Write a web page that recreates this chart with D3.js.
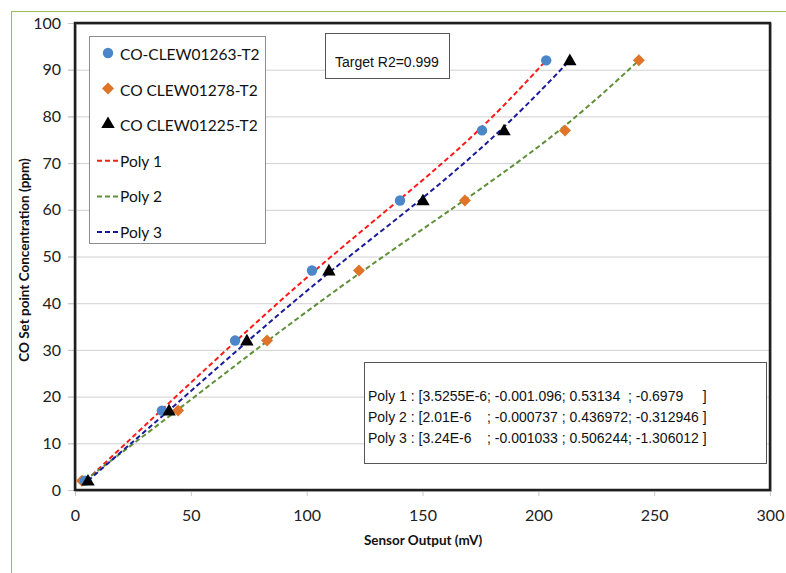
<!DOCTYPE html>
<html>
<head>
<meta charset="utf-8">
<script src="https://cdn.jsdelivr.net/npm/d3@7"></script>
<style>
  html, body { margin: 0; padding: 0; background: #fff; }
  svg { display: block; }
</style>
</head>
<body>
<svg id="chart" width="786" height="573"></svg>
<script>
// ---- Data ----
const setPoints = [2, 17, 32, 47, 62, 77, 92];
const seriesNames = ["CO-CLEW01263-T2", "CO CLEW01278-T2", "CO CLEW01225-T2"];
const s1263 = [4.3, 37.5, 69.1, 102.3, 140.3, 175.7, 203.4];
const s1278 = [3.0, 44.5, 82.9, 122.6, 168.3, 211.5, 243.4];
const s1225 = [5.6, 40.6, 74.2, 109.6, 150.2, 185.2, 213.6];
// trend lines: x positions at each set-point level
const polyNames = ["Poly 1", "Poly 2", "Poly 3"];
const poly1X = [4.8, 37.0, 69.6, 103.0, 139.8, 175.4, 203.4];
const poly2X = [4.2, 44.0, 83.0, 124.0, 168.2, 210.6, 243.4];
const poly3X = [5.6, 40.6, 74.6, 110.2, 149.4, 184.6, 213.6];
const xTicks = [0, 50, 100, 150, 200, 250, 300];
const yTicks = [0, 10, 20, 30, 40, 50, 60, 70, 80, 90, 100];
const targetText = "Target R2=0.999";
const polyTexts = [
  "Poly 1 : [3.5255E-6; -0.001.096; 0.53134  ; -0.6979     ]",
  "Poly 2 : [2.01E-6    ; -0.000737 ; 0.436972; -0.312946 ]",
  "Poly 3 : [3.24E-6    ; -0.001033 ; 0.506244; -1.306012 ]"
];
const xTitle = "Sensor Output (mV)";
const yTitle = "CO Set point Concentration (ppm)";

// ---- Layout ----
const svg = d3.select("#chart");
const L = 75, R = 770, T = 23, B = 490;
const x = d3.scaleLinear().domain([0, 300]).range([L, R]);
const y = d3.scaleLinear().domain([0, 100]).range([B, T]);
const tickFont = "Lato, 'Open Sans', sans-serif";

// outer frame (light green)
svg.append("rect").attr("x", 11.5).attr("y", 11.5).attr("width", 800).attr("height", 600)
  .attr("fill", "#fff").attr("stroke", "#9bbb59").attr("stroke-width", 1);

// gridlines
svg.append("g").selectAll("line").data(yTicks.filter(d => d > 0 && d < 100)).join("line")
  .attr("x1", L - 7).attr("x2", R).attr("y1", d => y(d) + 0.5).attr("y2", d => y(d) + 0.5)
  .attr("stroke", "#d0d0d0").attr("stroke-width", 1);

// axes
const yAxis = d3.axisLeft(y).tickValues(yTicks).tickSize(7).tickPadding(7);
const gy = svg.append("g").attr("transform", `translate(${L},0)`).call(yAxis);
gy.select(".domain").remove();
gy.selectAll(".tick line").attr("stroke", "#c8c8c8");
gy.selectAll("text").attr("font-family", tickFont).attr("font-size", 16).attr("fill", "#222");

const xAxis = d3.axisBottom(x).tickValues(xTicks).tickSize(6).tickPadding(14);
const gx = svg.append("g").attr("transform", `translate(0,${B})`).call(xAxis);
gx.select(".domain").remove();
gx.selectAll(".tick line").attr("stroke", "#c8c8c8");
gx.selectAll("text").attr("font-family", tickFont).attr("font-size", 16).attr("fill", "#222");

// plot border
svg.append("rect").attr("x", L + 1).attr("y", T + 1).attr("width", R - L).attr("height", B - T)
  .attr("fill", "none").attr("stroke", "#c8c8c8").attr("stroke-width", 2);
svg.append("rect").attr("x", L).attr("y", T).attr("width", R - L).attr("height", B - T)
  .attr("fill", "none").attr("stroke", "#1e1e1e").attr("stroke-width", 2.5);

// axis titles
svg.append("text").attr("x", 423).attr("y", 545).attr("text-anchor", "middle")
  .attr("font-family", tickFont).attr("font-weight", "bold").attr("font-size", 13.5).attr("fill", "#111")
  .text(xTitle);
svg.append("text").attr("transform", "translate(29,260) rotate(-90)").attr("text-anchor", "middle")
  .attr("font-family", tickFont).attr("font-weight", "bold").attr("font-size", 13.5).attr("fill", "#111")
  .text(yTitle);

// trend lines
const polyColors = ["#ff1a1a", "#5f8f38", "#1a1a9c"];
const polyXs = [poly1X, poly2X, poly3X];
const lineGen = d3.line().x(d => x(d[0])).y(d => y(d[1])).curve(d3.curveBasis);
polyXs.forEach((xs, i) => {
  svg.append("path").datum(xs.map((v, k) => [v, setPoints[k]]))
    .attr("d", lineGen).attr("fill", "none").attr("stroke", polyColors[i])
    .attr("stroke-width", 2).attr("stroke-dasharray", "5,3");
});

// markers
const blue = "#4a86c8", orange = "#e07428";
const sym = {
  circle: d3.symbol().type(d3.symbolCircle).size(85),
  diamond: d3.symbol().type(d3.symbolSquare).size(72),
  triangle: d3.symbol().type(d3.symbolTriangle).size(78)
};
function drawMarkers(xs, kind, color) {
  svg.append("g").selectAll("path").data(xs.map((v, k) => [v, setPoints[k]])).join("path")
    .attr("d", sym[kind])
    .attr("transform", d => `translate(${x(d[0])},${y(d[1])})` + (kind === "diamond" ? " rotate(45)" : kind === "triangle" ? " translate(0,1)" : ""))
    .attr("fill", color);
}
drawMarkers(s1278, "diamond", orange);
drawMarkers(s1263, "circle", blue);
drawMarkers(s1225, "triangle", "#000");

// legend
const lg = svg.append("g");
lg.append("rect").attr("x", 89.5).attr("y", 36.5).attr("width", 176).attr("height", 207)
  .attr("fill", "#fff").attr("stroke", "#8c8c8c").attr("stroke-width", 1);
const legendItems = [
  { name: seriesNames[0], kind: "circle", color: blue },
  { name: seriesNames[1], kind: "diamond", color: orange },
  { name: seriesNames[2], kind: "triangle", color: "#000" },
  { name: polyNames[0], kind: "line", color: polyColors[0] },
  { name: polyNames[1], kind: "line", color: polyColors[1] },
  { name: polyNames[2], kind: "line", color: polyColors[2] }
];
legendItems.forEach((it, i) => {
  const cy = 54 + i * 35.6;
  if (it.kind === "line") {
    lg.append("line").attr("x1", 97).attr("x2", 119).attr("y1", cy).attr("y2", cy)
      .attr("stroke", it.color).attr("stroke-width", 2).attr("stroke-dasharray", "5,3");
  } else {
    lg.append("path").attr("d", sym[it.kind])
      .attr("transform", `translate(108,${cy - 1})` + (it.kind === "diamond" ? " rotate(45)" : ""))
      .attr("fill", it.color);
  }
  lg.append("text").attr("x", 120).attr("y", cy + 6).attr("font-family", tickFont)
    .attr("font-size", 15.5).attr("fill", "#111").text(it.name);
});

// target box
svg.append("rect").attr("x", 325.5).attr("y", 33.5).attr("width", 124).attr("height", 45)
  .attr("fill", "#fff").attr("stroke", "#555").attr("stroke-width", 1);
svg.append("text").attr("x", 335).attr("y", 67).attr("font-family", "'Liberation Sans', Arial, sans-serif")
  .attr("font-size", 14).attr("fill", "#111").text(targetText);

// polynomial box
svg.append("rect").attr("x", 364.5).attr("y", 362.5).attr("width", 402).attr("height", 101)
  .attr("fill", "#fff").attr("stroke", "#555").attr("stroke-width", 1);
svg.append("g").selectAll("text").data(polyTexts).join("text")
  .attr("x", 368).attr("y", (d, i) => 401 + i * 21)
  .attr("font-family", "'Liberation Sans', Arial, sans-serif").attr("font-size", 14)
  .attr("fill", "#111").style("white-space", "pre").attr("xml:space", "preserve").text(d => d);
</script>
</body>
</html>
